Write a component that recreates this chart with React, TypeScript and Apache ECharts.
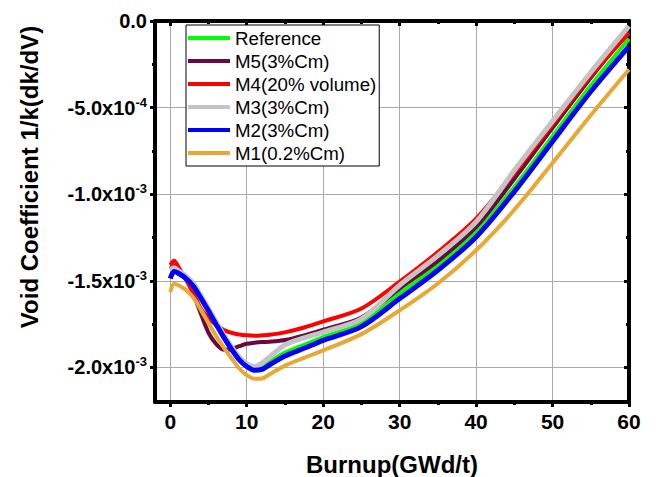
import React, { useEffect, useRef } from 'react';
import * as echarts from 'echarts';

const burnup = [0, 0.5, 1, 2, 3, 4, 5, 6, 7, 8, 9, 10, 11, 12, 13, 15, 17.5, 20, 25, 30, 35, 40, 45, 50, 55, 60];

const reference = [-1.485e-3, -1.445e-3, -1.452e-3, -1.482e-3, -1.527e-3, -1.597e-3, -1.672e-3, -1.749e-3, -1.824e-3, -1.892e-3, -1.952e-3, -1.99e-3, -2.01e-3, -2.0e-3, -1.968e-3, -1.915e-3, -1.87e-3, -1.825e-3, -1.747e-3, -1.574e-3, -1.41e-3, -1.218e-3, -0.958e-3, -0.665e-3, -0.373e-3, -0.102e-3];
const m5 = [-1.43e-3, -1.415e-3, -1.43e-3, -1.48e-3, -1.575e-3, -1.69e-3, -1.8e-3, -1.865e-3, -1.898e-3, -1.895e-3, -1.878e-3, -1.864e-3, -1.858e-3, -1.854e-3, -1.852e-3, -1.842e-3, -1.815e-3, -1.782e-3, -1.712e-3, -1.545e-3, -1.385e-3, -1.189e-3, -0.912e-3, -0.617e-3, -0.328e-3, -0.056e-3];
const m4 = [-1.41e-3, -1.385e-3, -1.415e-3, -1.49e-3, -1.57e-3, -1.66e-3, -1.715e-3, -1.755e-3, -1.785e-3, -1.8e-3, -1.81e-3, -1.815e-3, -1.817e-3, -1.815e-3, -1.812e-3, -1.798e-3, -1.77e-3, -1.735e-3, -1.66e-3, -1.505e-3, -1.334e-3, -1.141e-3, -0.878e-3, -0.597e-3, -0.318e-3, -0.07e-3];
const m3 = [-1.44e-3, -1.425e-3, -1.44e-3, -1.47e-3, -1.515e-3, -1.585e-3, -1.66e-3, -1.738e-3, -1.812e-3, -1.88e-3, -1.94e-3, -1.978e-3, -1.995e-3, -1.975e-3, -1.94e-3, -1.87e-3, -1.83e-3, -1.796e-3, -1.72e-3, -1.526e-3, -1.355e-3, -1.16e-3, -0.862e-3, -0.578e-3, -0.296e-3, -0.03e-3];
const m2 = [-1.487e-3, -1.447e-3, -1.455e-3, -1.485e-3, -1.53e-3, -1.6e-3, -1.675e-3, -1.752e-3, -1.827e-3, -1.895e-3, -1.955e-3, -1.995e-3, -2.017e-3, -2.012e-3, -1.985e-3, -1.935e-3, -1.89e-3, -1.844e-3, -1.765e-3, -1.603e-3, -1.439e-3, -1.247e-3, -0.985e-3, -0.695e-3, -0.407e-3, -0.146e-3];
const m1 = [-1.565e-3, -1.517e-3, -1.525e-3, -1.552e-3, -1.597e-3, -1.668e-3, -1.745e-3, -1.818e-3, -1.886e-3, -1.947e-3, -2.005e-3, -2.045e-3, -2.066e-3, -2.064e-3, -2.04e-3, -1.99e-3, -1.945e-3, -1.902e-3, -1.808e-3, -1.671e-3, -1.516e-3, -1.324e-3, -1.09e-3, -0.82e-3, -0.544e-3, -0.28e-3];

const seriesNames = ['Reference', 'M5(3%Cm)', 'M4(20% volume)', 'M3(3%Cm)', 'M2(3%Cm)', 'M1(0.2%Cm)'];
const seriesValues = [reference, m5, m4, m3, m2, m1];
const seriesColors = ['#00ff00', '#6a0a3c', '#ff0000', '#c4c4c4', '#0000ff', '#e8a834'];
const seriesWidths = [4, 4, 4, 5, 5, 4];

const xMajorTicks = [0, 10, 20, 30, 40, 50, 60];
const xMinorTicks = [5, 15, 25, 35, 45, 55];
const yMajorTicks = [-2.0e-3, -1.5e-3, -1.0e-3, -5.0e-4, 0];
const yMinorTicks = [-1.75e-3, -1.25e-3, -7.5e-4, -2.5e-4];
const yTickMantissa = ['-2.0x10', '-1.5x10', '-1.0x10', '-5.0x10', '0.0'];
const yTickExponent = ['-3', '-3', '-3', '-4', ''];

const FONT = '"Liberation Sans", Arial, Helvetica, sans-serif';

export default function App() {
  const ref = useRef<HTMLDivElement>(null);
  useEffect(() => {
    if (!ref.current) return;
    const chart = echarts.init(ref.current, null, { renderer: 'svg' });
    const black = '#000';
    const xBase = { type: 'value', min: -2, max: 60, gridIndex: 0 };
    const yBase = { type: 'value', min: -2.2e-3, max: 0, gridIndex: 0 };
    const tickStyle = { color: black, width: 3 };
    const option: any = {
      animation: false,
      backgroundColor: '#fff',
      grid: { left: 155, right: 27, top: 21, bottom: 75, containLabel: false },
      legend: {
        orient: 'vertical',
        left: 186,
        top: 25,
        itemWidth: 42,
        itemHeight: 4,
        itemGap: 3,
        padding: [3, 3, 3, 2],
        borderColor: '#000',
        borderWidth: 1,
        backgroundColor: '#fff',
        icon: 'rect',
        selectedMode: false,
        textStyle: { fontFamily: FONT, fontSize: 18.7, color: '#000', lineHeight: 20 },
        data: seriesNames,
      },
      xAxis: [
        {
          ...xBase,
          position: 'bottom',
          axisLine: { show: true, onZero: false, lineStyle: { color: black, width: 4 } },
          axisTick: { show: true, customValues: xMajorTicks, length: 5, inside: false, lineStyle: tickStyle },
          axisLabel: { show: true, customValues: xMajorTicks, fontSize: 21, fontWeight: 'bold', fontFamily: FONT, color: black, margin: 9 },
          splitLine: { show: true, lineStyle: { color: '#aaaaaa', width: 1 } },
        },
        {
          ...xBase,
          position: 'bottom',
          axisLine: { show: false, onZero: false },
          axisTick: { show: true, customValues: xMinorTicks, length: 3, inside: false, lineStyle: tickStyle },
          axisLabel: { show: false },
          splitLine: { show: false },
        },
        {
          ...xBase,
          position: 'top',
          axisLine: { show: true, onZero: false, lineStyle: { color: black, width: 4 } },
          axisTick: { show: true, customValues: xMajorTicks, length: 5, inside: true, lineStyle: tickStyle },
          axisLabel: { show: false },
          splitLine: { show: false },
        },
        {
          ...xBase,
          position: 'top',
          axisLine: { show: false, onZero: false },
          axisTick: { show: true, customValues: xMinorTicks, length: 3, inside: true, lineStyle: tickStyle },
          axisLabel: { show: false },
          splitLine: { show: false },
        },
      ],
      yAxis: [
        {
          ...yBase,
          position: 'left',
          axisLine: { show: true, onZero: false, lineStyle: { color: black, width: 4 } },
          axisTick: { show: true, customValues: yMajorTicks, length: 5, inside: false, lineStyle: tickStyle },
          axisLabel: {
            show: true,
            customValues: yMajorTicks,
            margin: 8,
            formatter: (v: number) => {
              const i = yMajorTicks.findIndex((t) => Math.abs(t - v) < 1e-9);
              if (i < 0) return '';
              return yTickExponent[i]
                ? `{m|${yTickMantissa[i]}}{s|${yTickExponent[i]}}`
                : `{m|${yTickMantissa[i]}}`;
            },
            rich: {
              m: { fontSize: 20, fontWeight: 'bold', fontFamily: FONT, color: black, lineHeight: 24 },
              s: { fontSize: 13, fontWeight: 'bold', fontFamily: FONT, color: black, lineHeight: 13, verticalAlign: 'top' },
            },
          },
          splitLine: { show: true, lineStyle: { color: '#aaaaaa', width: 1 } },
        },
        {
          ...yBase,
          position: 'left',
          axisLine: { show: false, onZero: false },
          axisTick: { show: true, customValues: yMinorTicks, length: 3, inside: false, lineStyle: tickStyle },
          axisLabel: { show: false },
          splitLine: { show: false },
        },
        {
          ...yBase,
          position: 'right',
          axisLine: { show: true, onZero: false, lineStyle: { color: black, width: 4 } },
          axisTick: { show: true, customValues: yMajorTicks, length: 5, inside: true, lineStyle: tickStyle },
          axisLabel: { show: false },
          splitLine: { show: false },
        },
        {
          ...yBase,
          position: 'right',
          axisLine: { show: false, onZero: false },
          axisTick: { show: true, customValues: yMinorTicks, length: 3, inside: true, lineStyle: tickStyle },
          axisLabel: { show: false },
          splitLine: { show: false },
        },
      ],
      series: seriesNames.map((name, k) => ({
        name,
        type: 'line',
        xAxisIndex: 0,
        yAxisIndex: 0,
        data: burnup.map((x, i) => [x, seriesValues[k][i]]),
        showSymbol: false,
        symbol: 'none',
        smooth: 0.3,
        color: seriesColors[k],
        itemStyle: { color: seriesColors[k] },
        lineStyle: { color: seriesColors[k], width: seriesWidths[k] },
        z: 2 + k * 0.01,
      })),
      graphic: [
        {
          type: 'text',
          x: 29,
          y: 177,
          rotation: Math.PI / 2,
          style: {
            text: 'Void Coefficient 1/k(dk/dV)',
            font: `bold 24px ${FONT}`,
            fill: '#000',
            align: 'center',
            verticalAlign: 'middle',
            textAlign: 'center',
            textVerticalAlign: 'middle',
          },
        },
        {
          type: 'text',
          x: 392,
          y: 464,
          style: {
            text: 'Burnup(GWd/t)',
            font: `bold 24px ${FONT}`,
            fill: '#000',
            align: 'center',
            verticalAlign: 'middle',
            textAlign: 'center',
            textVerticalAlign: 'middle',
          },
        },
      ],
    };
    chart.setOption(option);
    return () => chart.dispose();
  }, []);
  return (
    <div
      ref={ref}
      style={{ position: 'fixed', left: 0, top: 0, width: 656, height: 477, background: '#fff' }}
    />
  );
}
